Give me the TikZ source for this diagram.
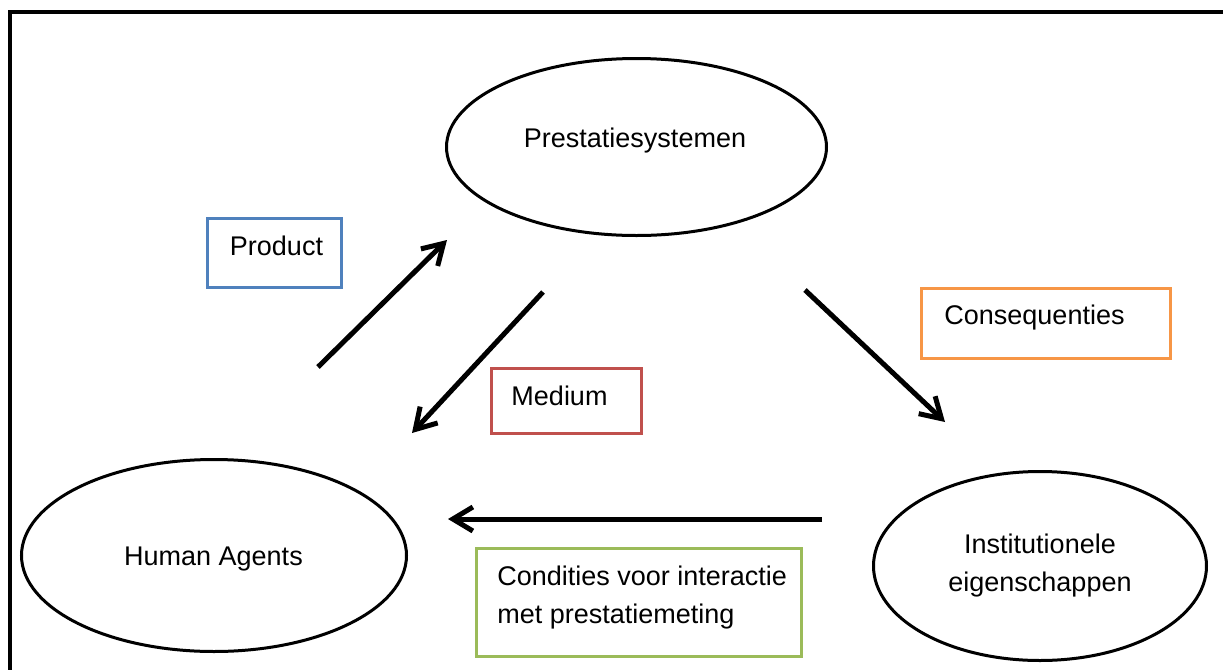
\documentclass[tikz,border=0pt]{standalone}
\usepackage{fontspec}
\setmainfont{Liberation Sans}
\usetikzlibrary{shapes.geometric,arrows.meta}
\definecolor{boxblue}{RGB}{79,129,189}
\definecolor{boxred}{RGB}{192,80,77}
\definecolor{boxorange}{RGB}{247,150,70}
\definecolor{boxgreen}{RGB}{155,187,89}
\begin{document}
\begin{tikzpicture}[x=0.5pt,y=-0.5pt,
  oval/.style={ellipse,draw,line width=1.5pt,inner sep=0pt},
  tag/.style={draw,line width=1.5pt,inner sep=0pt},
  txt/.style={anchor=base,inner sep=0pt,font=\fontsize{13.5}{19}\selectfont},
  flow/.style={line width=2.5pt,-{Straight Barb[length=10pt,width=12pt]}}]
\useasboundingbox (0,0) rectangle (1223,670);
\draw[line width=2pt] (9.5,690) -- (9.5,11.5) -- (1240,11.5);

% ellipses
\node[oval,minimum width=190pt,minimum height=88.5pt] (prest) at (636.5,147) {};
\node[oval,minimum width=192.5pt,minimum height=96pt] (human) at (214,555.5) {};
\node[oval,minimum width=166.5pt,minimum height=94.5pt] (inst) at (1040,566) {};
\node[txt] (prestlabel) at (635,147) {Prestatiesystemen};
\node[txt] (humanlabel) at (213.5,565) {Human Agents};
\node[txt,align=center] (instlabel) at (1040,591) {Institutionele\\eigenschappen};

% boxes
\node[tag,draw=boxblue,minimum width=67pt,minimum height=34.5pt] (product) at (274.5,253) {};
\node[tag,draw=boxred,minimum width=75pt,minimum height=32.5pt] (medium) at (566.5,401) {};
\node[tag,draw=boxorange,minimum width=124.5pt,minimum height=35pt] (conseq) at (1046,323.5) {};
\node[tag,draw=boxgreen,minimum width=162.5pt,minimum height=54pt] (cond) at (639,602.5) {};
\node[txt] (productlabel) at (276.5,255) {Product};
\node[txt] (mediumlabel) at (559.5,405) {Medium};
\node[txt] (conseqlabel) at (1034.5,324) {Consequenties};
\node[txt,anchor=base west,align=left] (condlabel) at (497,623) {Condities voor interactie\\met prestatiemeting};

% arrow ends
\coordinate (a1s) at (318,367);
\coordinate (a1e) at (447,240);
\coordinate (a2s) at (543,292);
\coordinate (a2e) at (412,433);
\coordinate (a3s) at (805,290);
\coordinate (a3e) at (945,422);
\coordinate (a4s) at (822,519);
\coordinate (a4e) at (448,519);
\draw[flow] (a1s) -- (a1e);
\draw[flow] (a2s) -- (a2e);
\draw[flow] (a3s) -- (a3e);
\draw[flow] (a4s) -- (a4e);
\end{tikzpicture}
\end{document}
